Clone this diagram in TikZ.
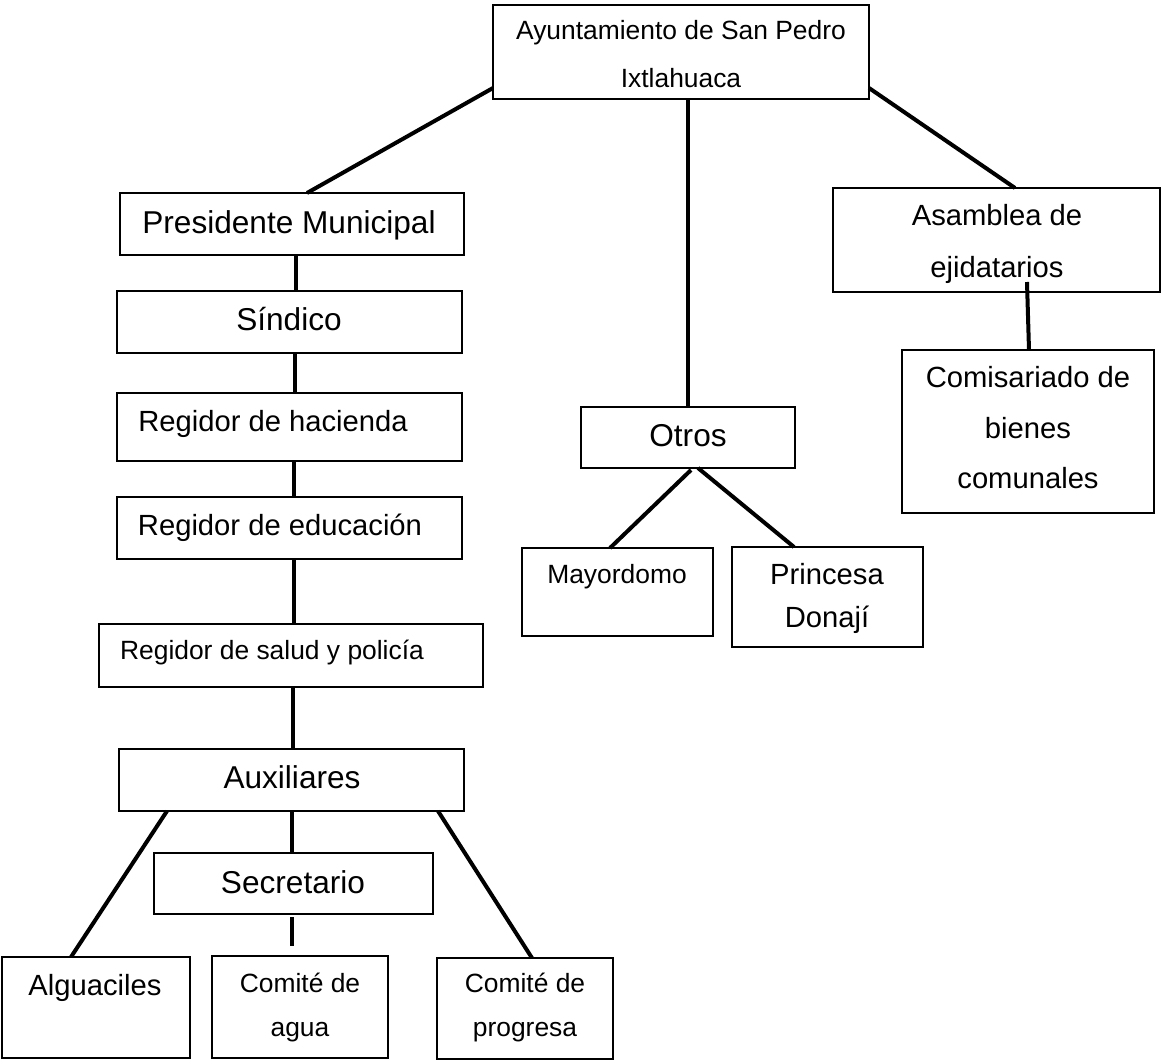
\documentclass[tikz,border=0pt]{standalone}
\usepackage{fontspec}
\setmainfont{Liberation Sans}
\usetikzlibrary{calc}
\tikzset{
  box/.style={draw, line width=1.3pt, inner sep=0pt, outer sep=0pt},
  conn/.style={line width=4pt},
  lbl/.style={anchor=base, inner sep=0pt, outer sep=0pt},
  fa/.style={font=\fontsize{31.6}{36}\selectfont},
  fb/.style={font=\fontsize{29.2}{34}\selectfont},
  fc/.style={font=\fontsize{26.4}{30}\selectfont},
}
\begin{document}
\begin{tikzpicture}[x=1pt, y=-1pt]
\fill[white] (0,0) rectangle (1162,1060);
\useasboundingbox (0,0) rectangle (1162,1060);

% boxes
\node[box, minimum width=376pt, minimum height=94pt]  (ayto)  at (681,52)     {};
\node[box, minimum width=344pt, minimum height=62pt]  (pres)  at (292,224)    {};
\node[box, minimum width=345pt, minimum height=62pt]  (sind)  at (289.5,322)  {};
\node[box, minimum width=345pt, minimum height=68pt]  (haci)  at (289.5,427)  {};
\node[box, minimum width=345pt, minimum height=62pt]  (educ)  at (289.5,528)  {};
\node[box, minimum width=384pt, minimum height=63pt]  (salud) at (291,655.5)  {};
\node[box, minimum width=345pt, minimum height=62pt]  (aux)   at (291.5,780)  {};
\node[box, minimum width=279pt, minimum height=61pt]  (secr)  at (293.5,883.5) {};
\node[box, minimum width=188pt, minimum height=101pt] (algu)  at (96,1007.5)  {};
\node[box, minimum width=176pt, minimum height=102pt] (agua)  at (300,1007)   {};
\node[box, minimum width=176pt, minimum height=101pt] (prog)  at (525,1008.5) {};
\node[box, minimum width=214pt, minimum height=61pt]  (otros) at (688,437.5)  {};
\node[box, minimum width=191pt, minimum height=88pt]  (mayor) at (617.5,592)  {};
\node[box, minimum width=191pt, minimum height=100pt] (princ) at (827.5,597)  {};
\node[box, minimum width=327pt, minimum height=104pt] (asam)  at (996.5,240)  {};
\node[box, minimum width=252pt, minimum height=163pt] (comi)  at (1028,431.5) {};

% labels
\node[lbl, fc] (ayto-a)  at (681,39)   {Ayuntamiento de San Pedro};
\node[lbl, fc] (ayto-b)  at (681,87)   {Ixtlahuaca};
\node[lbl, fa] (pres-a)  at (289,233)  {Presidente Municipal};
\node[lbl, fa] (sind-a)  at (289,330)  {Síndico};
\node[lbl, fb] (haci-a)  at (273,431)  {Regidor de hacienda};
\node[lbl, fb] (educ-a)  at (280,535)  {Regidor de educación};
\node[lbl, fc] (salud-a) at (272,659)  {Regidor de salud y policía};
\node[lbl, fa] (aux-a)   at (292,788)  {Auxiliares};
\node[lbl, fa] (secr-a)  at (293,893)  {Secretario};
\node[lbl, fb] (algu-a)  at (95,995)   {Alguaciles};
\node[lbl, fc] (agua-a)  at (300,992)  {Comité de};
\node[lbl, fc] (agua-b)  at (300,1036) {agua};
\node[lbl, fc] (prog-a)  at (525,992)  {Comité de};
\node[lbl, fc] (prog-b)  at (525,1036) {progresa};
\node[lbl, fa] (otros-a) at (688,446)  {Otros};
\node[lbl, fc] (mayor-a) at (617,583)  {Mayordomo};
\node[lbl, fb] (princ-a) at (827,584)  {Princesa};
\node[lbl, fb] (princ-b) at (827,627)  {Donají};
\node[lbl, fb] (asam-a)  at (997,225)  {Asamblea de};
\node[lbl, fb] (asam-b)  at (997,277)  {ejidatarios};
\node[lbl, fb] (comi-a)  at (1028,387) {Comisariado de};
\node[lbl, fb] (comi-b)  at (1028,438) {bienes};
\node[lbl, fb] (comi-c)  at (1028,488) {comunales};

% connectors
\draw[conn] (ayto.west |- 0,88) -- (pres.north -| 307,0);
\draw[conn] (ayto.south -| 688,0) -- (otros.north -| 688,0);
\draw[conn] (ayto.east |- 0,88) -- (asam.north -| 1015,0);
\draw[conn] (pres.south -| 296,0) -- (sind.north -| 296,0);
\draw[conn] (sind.south -| 295,0) -- (haci.north -| 295,0);
\draw[conn] (haci.south -| 294,0) -- (educ.north -| 294,0);
\draw[conn] (educ.south -| 294,0) -- (salud.north -| 294,0);
\draw[conn] (salud.south -| 293,0) -- (aux.north -| 293,0);
\draw[conn] (aux.south -| 292,0) -- (secr.north -| 292,0);
\draw[conn] (aux.south -| 167,0) -- (algu.north -| 71,0);
\draw[conn] (aux.south -| 438,0) -- (prog.north -| 532,0);
\draw[conn] ($(secr.south)+(-1.5,3)$) -- ($(agua.north)+(-8,-10)$);
\draw[conn] ($(otros.south)+(3,2)$) -- (mayor.north -| 610,0);
\draw[conn] ($(otros.south)+(10,0)$) -- (princ.north -| 794,0);
\draw[conn] ($(asam.south)+(30.5,-10)$) -- (comi.north -| 1029,0);
\end{tikzpicture}
\end{document}
